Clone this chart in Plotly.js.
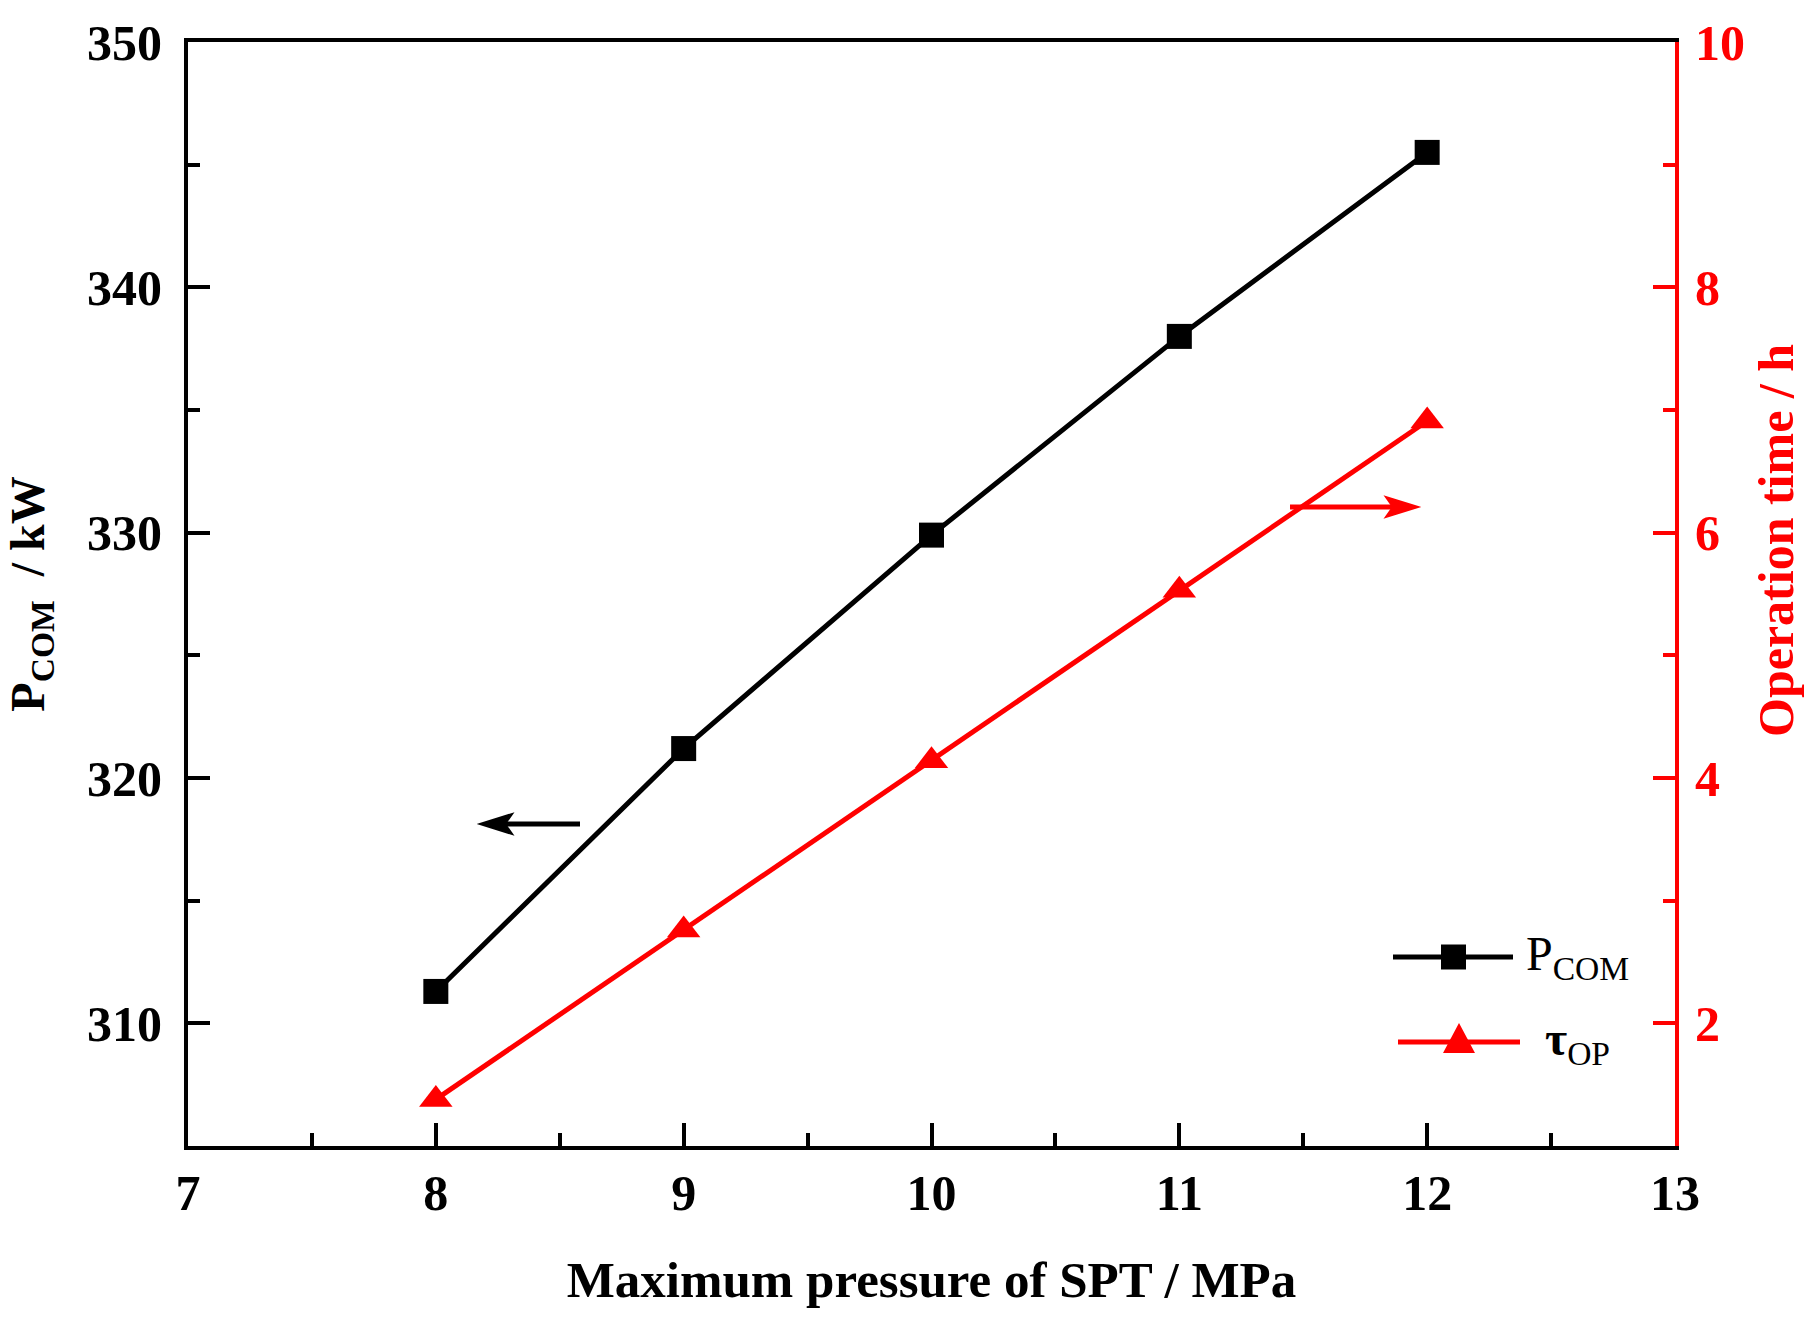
<!DOCTYPE html>
<html>
<head>
<meta charset="utf-8">
<script src="https://cdn.plot.ly/plotly-3.0.1.min.js"></script>
<style>
  html, body { margin: 0; padding: 0; background: #fff; }
  #chart { width: 1819px; height: 1317px; }
</style>
</head>
<body>
<div id="chart"></div>
<script>
// values
var pressure = [8, 9, 10, 11, 12];             // MPa
var powerCom = [311.3, 321.2, 329.9, 338.0, 345.5]; // kW
var opTime = [1.38, 2.76, 4.14, 5.53, 6.91];   // h

var W = 1819, H = 1317;
var M = { l: 188, r: 144, t: 42, b: 171 };
var plotW = W - M.l - M.r, plotH = H - M.t - M.b;

// pixel -> paper helpers, only used for the hand drawn legend and arrows
function px(x) { return (x - M.l) / plotW; }
function py(y) { return (H - M.b - y) / plotH; }

var serif = 'Liberation Serif, Times New Roman, serif';
var red = '#ff0000';

// horizontal arrow: tail at x0, tip at x1 (pixels), concave head
function arrowShapes(x0, x1, y, color) {
    var dir = x1 > x0 ? 1 : -1;
    var headLen = 32, half = 10, notch = 7;
    var back = x1 - dir * headLen;
    return [
        {
            type: 'line', xref: 'paper', yref: 'paper',
            x0: px(x0), x1: px(back + dir * notch), y0: py(y), y1: py(y),
            line: { color: color, width: 5 }
        },
        {
            type: 'path', xref: 'paper', yref: 'paper',
            path: 'M' + px(x1) + ',' + py(y) +
                  ' L' + px(back) + ',' + py(y - half) +
                  ' L' + px(back + dir * notch) + ',' + py(y) +
                  ' L' + px(back) + ',' + py(y + half) + ' Z',
            fillcolor: color, line: { color: color, width: 2 }
        }
    ];
}

var traces = [
    {
        x: pressure,
        y: powerCom,
        name: 'P<sub>COM</sub>',
        type: 'scatter',
        mode: 'lines+markers',
        line: { color: 'black', width: 5 },
        marker: { symbol: 'square', size: 25, color: 'black' },
        yaxis: 'y'
    },
    {
        x: pressure,
        y: opTime,
        name: '\u03c4<sub>OP</sub>',
        type: 'scatter',
        mode: 'lines+markers',
        line: { color: red, width: 5 },
        marker: { symbol: 'triangle-up', size: 29, color: red },
        yaxis: 'y2'
    }
];

var tickFont = { family: serif, size: 50, color: 'black', weight: 'bold' };

var layout = {
    width: W,
    height: H,
    margin: M,
    showlegend: false,
    paper_bgcolor: 'white',
    plot_bgcolor: 'white',
    xaxis: {
        range: [7, 13],
        dtick: 1,
        ticks: 'inside',
        ticklen: 23,
        tickwidth: 4,
        tickcolor: 'black',
        minor: { dtick: 0.5, ticks: 'inside', ticklen: 13, tickwidth: 4, tickcolor: 'black' },
        showgrid: false,
        zeroline: false,
        showline: true,
        linewidth: 4,
        linecolor: 'black',
        mirror: true,
        tickfont: tickFont,
        title: {
            text: 'Maximum pressure of SPT / MPa',
            font: { family: serif, size: 51, color: 'black', weight: 'bold' },
            standoff: 42
        }
    },
    yaxis: {
        range: [305, 350],
        dtick: 10,
        tick0: 310,
        ticks: 'inside',
        ticklen: 22,
        tickwidth: 4,
        tickcolor: 'black',
        minor: { dtick: 5, ticks: 'inside', ticklen: 12, tickwidth: 4, tickcolor: 'black' },
        showgrid: false,
        zeroline: false,
        showline: true,
        linewidth: 4,
        linecolor: 'black',
        ticklabelstandoff: 12,
        tickfont: tickFont,
        title: {
            text: 'P<sub>COM</sub>  / kW',
            font: { family: serif, size: 48, color: 'black', weight: 'bold' },
            standoff: 28
        }
    },
    yaxis2: {
        overlaying: 'y',
        side: 'right',
        range: [1, 10],
        dtick: 2,
        tick0: 2,
        ticks: 'inside',
        ticklen: 22,
        tickwidth: 4,
        tickcolor: red,
        minor: { dtick: 1, ticks: 'inside', ticklen: 12, tickwidth: 4, tickcolor: red },
        showgrid: false,
        zeroline: false,
        showline: true,
        linewidth: 4,
        linecolor: red,
        ticklabelstandoff: 6,
        tickfont: { family: serif, size: 50, color: red, weight: 'bold' }
    },
    annotations: [
        // right axis title, sits a little above the axis centre in the original
        {
            xref: 'paper', yref: 'paper',
            x: px(1776), y: py(540),
            xanchor: 'center', yanchor: 'middle',
            text: 'Operation time / h',
            textangle: -90,
            showarrow: false,
            font: { family: serif, size: 50, color: red, weight: 'bold' }
        },
        // legend labels
        {
            xref: 'paper', yref: 'paper',
            x: px(1524), y: py(957),
            xanchor: 'left', yanchor: 'top', yshift: 32,
            text: 'P<sub>COM</sub>',
            showarrow: false,
            font: { family: serif, size: 48, color: 'black' }
        },
        {
            xref: 'paper', yref: 'paper',
            x: px(1543), y: py(1042),
            xanchor: 'left', yanchor: 'top', yshift: 32,
            text: '<b>\u03c4</b><sub>OP</sub>',
            showarrow: false,
            font: { family: serif, size: 48, color: 'black' }
        }
    ],
    shapes: [
        // legend symbols
        {
            type: 'line', xref: 'paper', yref: 'paper',
            x0: px(1393), x1: px(1513), y0: py(957), y1: py(957),
            line: { color: 'black', width: 5 }
        },
        {
            type: 'rect', xref: 'paper', yref: 'paper',
            x0: px(1441), x1: px(1466), y0: py(944.5), y1: py(969.5),
            fillcolor: 'black', line: { width: 0 }
        },
        {
            type: 'line', xref: 'paper', yref: 'paper',
            x0: px(1398), x1: px(1520), y0: py(1042), y1: py(1042),
            line: { color: red, width: 5 }
        },
        {
            type: 'path', xref: 'paper', yref: 'paper',
            path: 'M' + px(1443) + ',' + py(1053) +
                  ' L' + px(1475) + ',' + py(1053) +
                  ' L' + px(1459) + ',' + py(1023) + ' Z',
            fillcolor: red, line: { width: 0 }
        }
    ]
        // arrows telling which axis each curve belongs to
        .concat(arrowShapes(580, 480, 824, 'black'))
        .concat(arrowShapes(1290, 1418, 507, red))
};

Plotly.newPlot('chart', traces, layout, { displayModeBar: false, staticPlot: true });
</script>
</body>
</html>
